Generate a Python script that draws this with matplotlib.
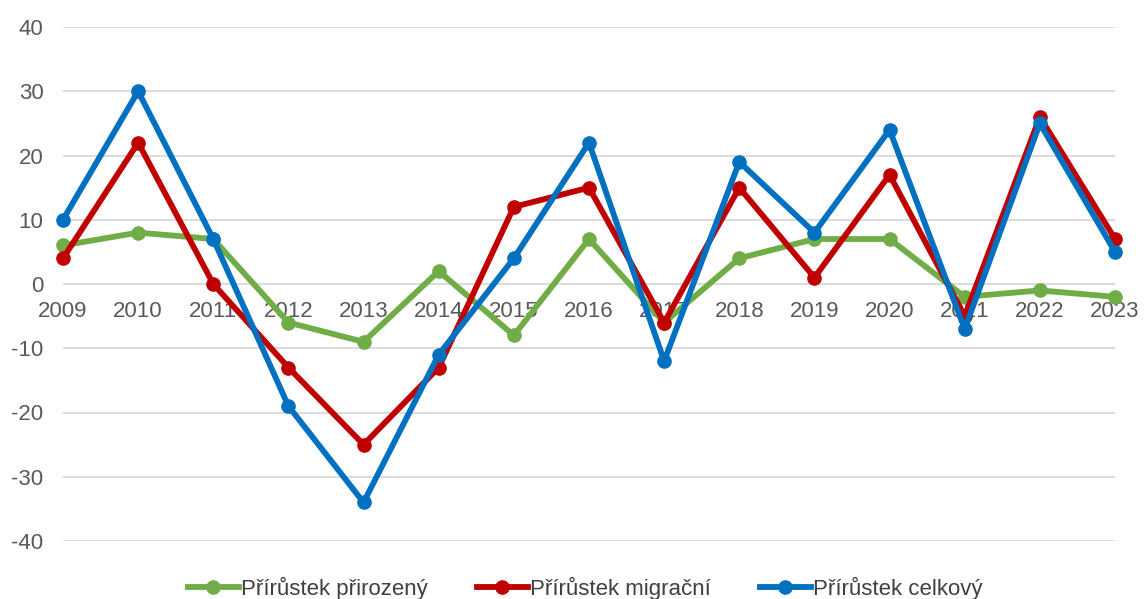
import matplotlib
matplotlib.use("Agg")
import matplotlib.pyplot as plt

years = list(range(2009, 2024))
prirozeny = [6, 8, 7, -6, -9, 2, -8, 7, -6, 4, 7, 7, -2, -1, -2]
migracni = [4, 22, 0, -13, -25, -13, 12, 15, -6, 15, 1, 17, -5, 26, 7]
celkovy = [10, 30, 7, -19, -34, -11, 4, 22, -12, 19, 8, 24, -7, 25, 5]
labels = ["Přírůstek přirozený", "Přírůstek migrační", "Přírůstek celkový"]
colors = ["#70AD47", "#C00000", "#0070C0"]
yticks = [-40, -30, -20, -10, 0, 10, 20, 30, 40]

plt.rcParams['font.family'] = ['Liberation Sans', 'DejaVu Sans']
plt.rcParams['axes.unicode_minus'] = False

W, H = 1147, 599
fig = plt.figure(figsize=(W / 100, H / 100), dpi=100)
ax = fig.add_axes([63 / W, (H - 541) / H, (1115 - 63) / W, (541 - 27) / H])

for vals, lab, col in zip([prirozeny, migracni, celkovy], labels, colors):
    ax.plot(years, vals, color=col, lw=4.2, marker='o', ms=9.5, label=lab,
            solid_joinstyle='round', clip_on=False, zorder=3)

ax.set_xlim(2009, 2023)
ax.set_ylim(-40, 40)
ax.set_yticks(yticks)
ax.set_xticks(years)
ax.set_xticklabels([str(y) for y in years])
ax.grid(axis='y', color='#D9D9D9', lw=1.3)
ax.set_axisbelow(True)
for s in ['top', 'right', 'left']:
    ax.spines[s].set_visible(False)
ax.spines['bottom'].set_position(('data', 0))
ax.spines['bottom'].set_visible(False)
ax.tick_params(axis='both', length=0, labelsize=16, colors='#595959')
ax.tick_params(axis='x', pad=12)
ax.tick_params(axis='y', pad=14)

leg = fig.legend(loc='lower center', ncol=3, frameon=False, fontsize=16,
                 bbox_to_anchor=(0.51, -0.035), handlelength=2.3, columnspacing=2.2,
                 handletextpad=0.1)
for t in leg.get_texts():
    t.set_color('#404040')

fig.savefig('out.png', dpi=100)
